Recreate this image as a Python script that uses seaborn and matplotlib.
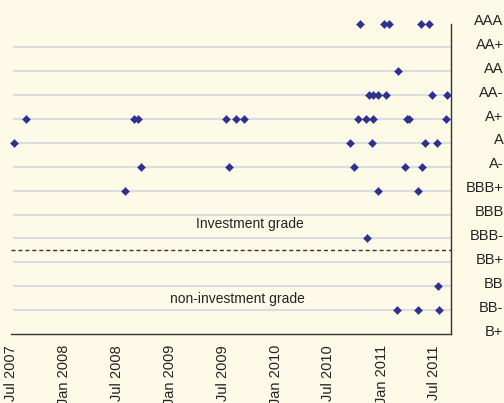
import matplotlib
matplotlib.use("Agg")
import matplotlib.pyplot as plt
import matplotlib.dates as mdates
import matplotlib.transforms as mtransforms
import pandas as pd
import seaborn as sns

# rating scale, lowest first
grades = ['B+', 'BB-', 'BB', 'BB+', 'BBB-', 'BBB', 'BBB+',
          'A-', 'A', 'A+', 'AA-', 'AA', 'AA+', 'AAA']

# rating actions
point_dates = [
    # AAA
    '2010-10-19', '2011-01-11', '2011-01-26', '2011-05-18', '2011-06-15',
    # AA
    '2011-02-26',
    # AA-
    '2010-11-20', '2010-12-01', '2010-12-19', '2011-01-18', '2011-06-25', '2011-08-15',
    # A+
    '2007-08-23', '2008-08-30', '2008-09-11', '2009-07-12', '2009-08-18', '2009-09-13',
    '2010-10-13', '2010-11-09', '2010-12-01', '2011-03-30', '2011-04-07', '2011-08-12',
    # A
    '2007-07-11', '2010-09-14', '2010-11-30', '2011-05-31', '2011-07-11',
    # A-
    '2008-09-21', '2009-07-22', '2010-09-28', '2011-03-23', '2011-05-21',
    # BBB+
    '2008-07-28', '2010-12-21', '2011-05-08',
    # BBB-
    '2010-11-11',
    # BB
    '2011-07-16',
    # BB-
    '2011-02-24', '2011-05-08', '2011-07-19',
]
point_grades = (['AAA'] * 5 + ['AA'] + ['AA-'] * 6 + ['A+'] * 12 + ['A'] * 5
                + ['A-'] * 5 + ['BBB+'] * 3 + ['BBB-'] + ['BB'] + ['BB-'] * 3)

tick_dates = ['2007-07-01', '2008-01-01', '2008-07-01', '2009-01-01', '2009-07-01',
              '2010-01-01', '2010-07-01', '2011-01-01', '2011-07-01']

bg = '#fdfbe8'
ink = '#222222'
marker_color = '#2e3192'

sns.set_style('white', {'axes.facecolor': bg, 'figure.facecolor': bg})
plt.rcParams['font.family'] = ['Liberation Sans', 'DejaVu Sans']

df = pd.DataFrame({'date': pd.to_datetime(point_dates), 'grade': point_grades})
df['level'] = df['grade'].map({g: i for i, g in enumerate(grades)})

fig = plt.figure(figsize=(5.04, 4.03), dpi=100, facecolor=bg)
ax = fig.add_axes([11 / 504, 1 - 334 / 403, (450.7 - 11) / 504, (334 - 23.5) / 403])
ax.set_facecolor(bg)

# light rating lines (none at the top or bottom edge)
for lvl in range(1, len(grades) - 1):
    ax.axhline(lvl, xmin=0.007, color='#dcdcdc', lw=1.6, zorder=0)

# investment / non-investment boundary
ax.axhline(3.5, color='#333333', lw=1.0, ls=(0, (2.9, 2.1)), zorder=1)

sns.scatterplot(data=df, x='date', y='level', marker='D', s=17,
                color=marker_color, edgecolor=marker_color, linewidth=0.3,
                ax=ax, clip_on=False, zorder=3)

ax.set_xlim(pd.Timestamp('2007-07-01'), pd.Timestamp('2011-08-28'))
ax.set_ylim(0, len(grades) - 1)
ax.set_xlabel('')
ax.set_ylabel('')

ax.set_xticks(pd.to_datetime(tick_dates))
ax.xaxis.set_major_formatter(mdates.DateFormatter('%b %Y'))
ax.tick_params(axis='x', direction='in', length=6.5, width=1, color='#333333',
               labelsize=10.5, labelrotation=90, pad=8, labelcolor=ink)

ax.set_yticks(range(len(grades)))
ax.set_yticklabels(grades)
ax.tick_params(axis='y', left=False, right=False, labelleft=False, labelright=True,
               pad=34.6, labelsize=10.5, labelcolor=ink)
shift = mtransforms.ScaledTranslation(0, 4 / 100, fig.dpi_scale_trans)
for tick in ax.yaxis.get_major_ticks():
    tick.label2.set_horizontalalignment('right')
    tick.label2.set_transform(tick.label2.get_transform() + shift)

for side in ['left', 'top']:
    ax.spines[side].set_visible(False)
for side in ['right', 'bottom']:
    ax.spines[side].set_color('#333333')
    ax.spines[side].set_linewidth(1)

trans = ax.get_yaxis_transform()
ax.text(0.5436, 4.6, 'Investment grade', transform=trans, ha='center', va='center',
        fontsize=10, color=ink)
ax.text(0.516, 1.46, 'non-investment grade', transform=trans, ha='center', va='center',
        fontsize=10, color=ink)

fig.savefig('out.png', dpi=100, facecolor=bg)
